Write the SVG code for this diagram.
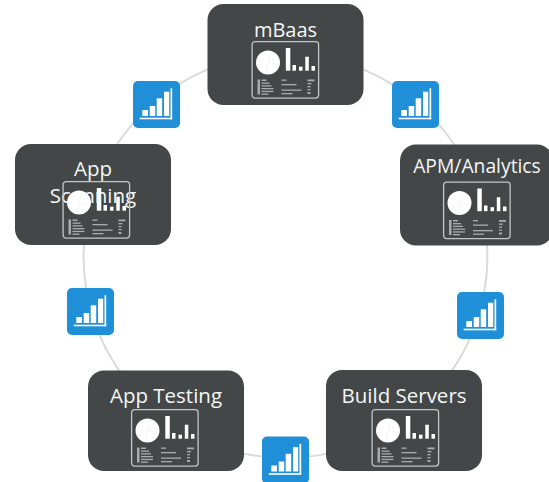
<svg xmlns="http://www.w3.org/2000/svg" width="549" height="482" viewBox="0 0 549 482">
<style>
.box{fill:#434748}
.t{font-family:"Open Sans","Noto Sans",sans-serif;font-size:20.5px;fill:#f6f6f6;text-anchor:middle}
.ic{fill:#1f90d8}
.w{fill:#fff}
.f{fill:none;stroke:#c4c6c6;stroke-width:1.3}
.g{fill:#a9acac}
.p{fill:none;stroke:#eeeeee;stroke-width:.6}
</style>
<defs>
<g id="dash">
<rect class="f" x="0.6" y="0.6" width="66.500" height="56.500" rx="3"/>
<circle class="w" cx="16.500" cy="21.500" r="12"/>
<path class="p" d="M16.500 21.500L20 11M16.500 21.500L14 32M16.500 21.500L24 23"/>
<rect class="w" x="34.300" y="7" width="4.500" height="22.700"/>
<rect class="w" x="41" y="24" width="3.500" height="5.700"/>
<rect class="w" x="47.500" y="25.700" width="3.500" height="4"/>
<rect class="w" x="53.800" y="15.700" width="3.500" height="14"/>
<rect class="w" x="60" y="25" width="3.500" height="4.700"/>
<rect class="g" x="6" y="38.500" width="2.500" height="15"/>
<rect class="g" x="10" y="38.500" width="5" height="1.500"/>
<rect class="g" x="10" y="41.500" width="8" height="1.300"/>
<rect class="g" x="10" y="44.200" width="10" height="1.300"/>
<rect class="g" x="10" y="47" width="12" height="1.300"/>
<rect class="g" x="10" y="49.800" width="12" height="1.300"/>
<rect class="g" x="10" y="52.500" width="7" height="1.300"/>
<rect class="g" x="30" y="38.500" width="5" height="1.300"/>
<rect class="g" x="30" y="43" width="15" height="1.300"/>
<rect class="g" x="30" y="48.500" width="20" height="1.300"/>
<rect class="g" x="30" y="52" width="11" height="1.300"/>
<rect class="g" x="56" y="38.500" width="7" height="1.800"/>
<rect class="g" x="56" y="42" width="4" height="1.300"/>
<rect class="g" x="56" y="45" width="3" height="1.300"/>
<rect class="g" x="56" y="48" width="3" height="1.300"/>
<rect class="g" x="56" y="51" width="3" height="2"/>
</g>
<g id="chart">
<rect class="ic" width="47" height="47" rx="5"/>
<rect class="w" x="6.700" y="36.700" width="32.500" height="1.600"/>
<rect class="w" x="9.300" y="29" width="5.700" height="6"/>
<rect class="w" x="16.700" y="25" width="5.500" height="10"/>
<rect class="w" x="23.700" y="17.300" width="5.500" height="17.700"/>
<rect class="w" x="31" y="10.700" width="5.200" height="24.300"/>
<rect class="w" x="37.500" y="7.300" width="1.700" height="31"/>
</g>
</defs>
<g id="connectors">
<circle cx="285.500" cy="256" r="202" fill="none" stroke="#d9dada" stroke-width="2"/>
</g>
<g id="node-mbaas"><rect class="box" x="207.500" y="4" width="156" height="101" rx="16"/><text class="t" x="285.500" y="36.500" style="font-size:20px">mBaas</text><use href="#dash" x="251.500" y="41"/></g>
<g id="node-apm"><rect class="box" x="400" y="144.500" width="153" height="101" rx="16"/><text class="t" x="477" y="172.500" style="font-size:19.300px">APM/Analytics</text><use href="#dash" x="443" y="181.500"/></g>
<g id="node-build"><rect class="box" x="326" y="370" width="156" height="101" rx="16"/><text class="t" x="404" y="402.500">Build Servers</text><use href="#dash" x="371.500" y="409"/></g>
<g id="node-testing"><rect class="box" x="88" y="370.500" width="156" height="100.500" rx="16"/><text class="t" x="166" y="402.500">App Testing</text><use href="#dash" x="131" y="409"/></g>
<g id="node-scanning"><rect class="box" x="15" y="144" width="156" height="101" rx="16"/><text class="t" x="93" y="175.500">App</text><text class="t" x="93" y="202.500">Scanning</text><use href="#dash" x="62.500" y="181"/></g>
<g id="metric-1"><use href="#chart" x="133" y="81"/></g>
<g id="metric-2"><use href="#chart" x="392" y="81"/></g>
<g id="metric-3"><use href="#chart" x="457" y="292"/></g>
<g id="metric-4"><use href="#chart" x="262" y="436.500"/></g>
<g id="metric-5"><use href="#chart" x="67" y="288"/></g>
</svg>
